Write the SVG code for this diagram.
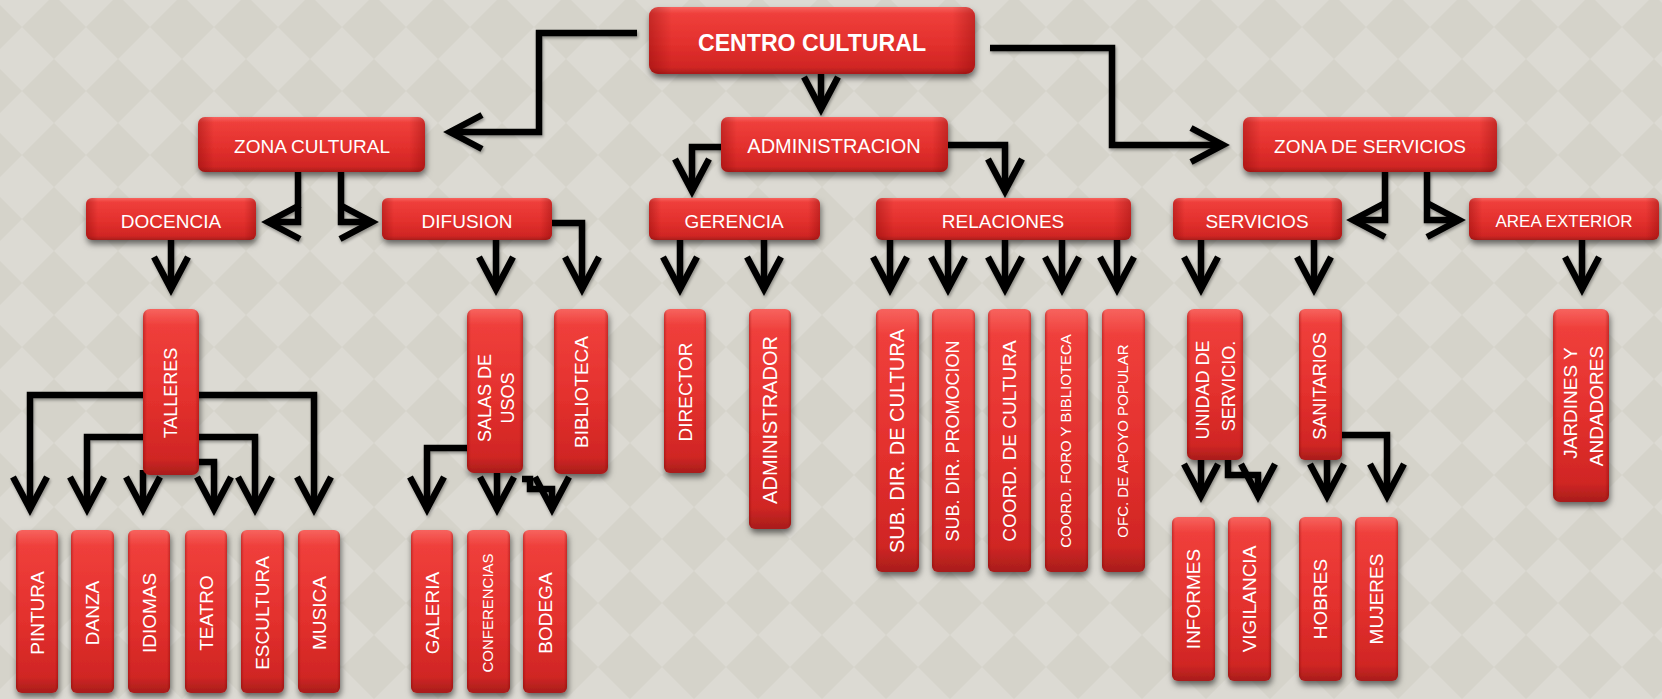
<svg xmlns="http://www.w3.org/2000/svg" width="1662" height="699" viewBox="0 0 1662 699">
<defs>
<pattern id="bg" width="64" height="64" patternUnits="userSpaceOnUse" patternTransform="translate(54,27)">
<rect width="64" height="64" fill="#d5d3ca"/>
<polygon points="32,0 64,32 32,64 0,32" fill="#dcdad3"/>
</pattern>
<linearGradient id="gr" x1="0" y1="0" x2="0" y2="1">
<stop offset="0" stop-color="#f7635e"/>
<stop offset="0.1" stop-color="#ef3f3b"/>
<stop offset="0.55" stop-color="#e3302d"/>
<stop offset="0.9" stop-color="#d02624"/>
<stop offset="1" stop-color="#a81d1b"/>
</linearGradient>
<linearGradient id="gs" x1="0" y1="0" x2="1" y2="0">
<stop offset="0" stop-color="#7a0000" stop-opacity="0.35"/>
<stop offset="0.07" stop-color="#7a0000" stop-opacity="0"/>
<stop offset="0.93" stop-color="#7a0000" stop-opacity="0"/>
<stop offset="1" stop-color="#7a0000" stop-opacity="0.35"/>
</linearGradient>
<filter id="sh" x="-20%" y="-20%" width="140%" height="150%">
<feDropShadow dx="1" dy="4" stdDeviation="3" flood-color="#000" flood-opacity="0.55"/>
</filter>
<filter id="lsh" x="-10%" y="-10%" width="120%" height="120%">
<feDropShadow dx="1" dy="2" stdDeviation="1.5" flood-color="#000" flood-opacity="0.35"/>
</filter>
<marker id="ah" markerUnits="userSpaceOnUse" viewBox="-44 -24 52 48" refX="0" refY="0" markerWidth="52" markerHeight="48" orient="auto">
<path d="M-32,-17 L0,0 L-32,17" fill="none" stroke="#000" stroke-width="6.5" stroke-linejoin="miter" stroke-miterlimit="10"/>
</marker>
<style>
.b{fill:url(#gr);filter:url(#sh)}
.s{fill:url(#gs)}
.t{font-family:"Liberation Sans",Arial,sans-serif;fill:#fff;font-size:19px;text-anchor:middle}
.c{fill:none;stroke:#000;stroke-width:6.5;stroke-linejoin:miter;marker-end:url(#ah)}
</style>
</defs>
<rect width="1662" height="699" fill="url(#bg)"/>

<g id="connectors" filter="url(#lsh)">
<path class="c" d="M637,33 H539 V132 H450"/>
<path class="c" d="M821,74 V109"/>
<path class="c" d="M990,48 H1112 V145 H1223"/>
<path class="c" d="M298,172 V222 H268"/>
<path class="c" d="M341,172 V222 H372"/>
<path class="c" d="M724,147 H692 V191"/>
<path class="c" d="M948,145 H1005 V191"/>
<path class="c" d="M1385,172 V220 H1353"/>
<path class="c" d="M1427,172 V220 H1459"/>
<path class="c" d="M171,240 V289"/>
<path class="c" d="M496,240 V289"/>
<path class="c" d="M552,223 H582 V289"/>
<path class="c" d="M680,240 V289"/>
<path class="c" d="M764,240 V289"/>
<path class="c" d="M890,240 V289"/>
<path class="c" d="M948,240 V289"/>
<path class="c" d="M1005,240 V289"/>
<path class="c" d="M1062,240 V289"/>
<path class="c" d="M1117,240 V289"/>
<path class="c" d="M1201,240 V289"/>
<path class="c" d="M1314,240 V289"/>
<path class="c" d="M1582,240 V289"/>
<path class="c" d="M145,395 H30 V509"/>
<path class="c" d="M196,395 H314 V509"/>
<path class="c" d="M145,437 H87 V509"/>
<path class="c" d="M196,437 H255 V509"/>
<path class="c" d="M143,470 V509"/>
<path class="c" d="M196,462 H214 V509"/>
<path class="c" d="M469,448 H427 V509"/>
<path class="c" d="M497,472 V509"/>
<path class="c" d="M522,479 H530 V489 H552 V509"/>
<path class="c" d="M1201,459 V496"/>
<path class="c" d="M1228,459 V475 H1258 V496"/>
<path class="c" d="M1327,459 V496"/>
<path class="c" d="M1340,435 H1387 V496"/>
</g>

<g id="centro-cultural"><rect class="b" x="649" y="7" width="326" height="67" rx="9"/><rect class="s" x="649" y="7" width="326" height="67" rx="9"/><text class="t" x="812" y="51" style="font-size:24px;font-weight:bold" textLength="228" lengthAdjust="spacingAndGlyphs">CENTRO CULTURAL</text></g>

<g id="zona-cultural"><rect class="b" x="198" y="117" width="227" height="55" rx="7"/><rect class="s" x="198" y="117" width="227" height="55" rx="7"/><text class="t" x="312" y="153">ZONA CULTURAL</text></g>
<g id="administracion"><rect class="b" x="721" y="117" width="227" height="55" rx="7"/><rect class="s" x="721" y="117" width="227" height="55" rx="7"/><text class="t" x="834" y="153" style="font-size:20px">ADMINISTRACION</text></g>
<g id="zona-servicios"><rect class="b" x="1243" y="117" width="254" height="55" rx="7"/><rect class="s" x="1243" y="117" width="254" height="55" rx="7"/><text class="t" x="1370" y="153">ZONA DE SERVICIOS</text></g>

<g id="docencia"><rect class="b" x="86" y="198" width="170" height="42" rx="6"/><rect class="s" x="86" y="198" width="170" height="42" rx="6"/><text class="t" x="171" y="228">DOCENCIA</text></g>
<g id="difusion"><rect class="b" x="382" y="198" width="170" height="42" rx="6"/><rect class="s" x="382" y="198" width="170" height="42" rx="6"/><text class="t" x="467" y="228">DIFUSION</text></g>
<g id="gerencia"><rect class="b" x="649" y="198" width="171" height="42" rx="6"/><rect class="s" x="649" y="198" width="171" height="42" rx="6"/><text class="t" x="734" y="228">GERENCIA</text></g>
<g id="relaciones"><rect class="b" x="876" y="198" width="255" height="42" rx="6"/><rect class="s" x="876" y="198" width="255" height="42" rx="6"/><text class="t" x="1003" y="228">RELACIONES</text></g>
<g id="servicios"><rect class="b" x="1173" y="198" width="169" height="42" rx="6"/><rect class="s" x="1173" y="198" width="169" height="42" rx="6"/><text class="t" x="1257" y="228">SERVICIOS</text></g>
<g id="area-exterior"><rect class="b" x="1469" y="198" width="190" height="42" rx="6"/><rect class="s" x="1469" y="198" width="190" height="42" rx="6"/><text class="t" x="1564" y="227" style="font-size:17px">AREA EXTERIOR</text></g>

<g id="talleres"><rect class="b" x="143" y="309" width="56" height="166" rx="7"/><rect class="s" x="143" y="309" width="56" height="166" rx="7"/><text class="t" transform="translate(171,393) rotate(-90)" y="6.3" style="font-size:18px">TALLERES</text></g>
<g id="salas-de-usos"><rect class="b" x="467" y="309" width="56" height="164" rx="7"/><rect class="s" x="467" y="309" width="56" height="164" rx="7"/><text class="t" transform="translate(485,398) rotate(-90)" y="6.3" style="font-size:18px">SALAS DE</text><text class="t" transform="translate(508,398) rotate(-90)" y="6.3" style="font-size:18px">USOS</text></g>
<g id="biblioteca"><rect class="b" x="554" y="309" width="54" height="165" rx="7"/><rect class="s" x="554" y="309" width="54" height="165" rx="7"/><text class="t" transform="translate(581,392) rotate(-90)" y="6.6">BIBLIOTECA</text></g>
<g id="director"><rect class="b" x="664" y="309" width="42" height="164" rx="6"/><rect class="s" x="664" y="309" width="42" height="164" rx="6"/><text class="t" transform="translate(685,392) rotate(-90)" y="6.6">DIRECTOR</text></g>
<g id="administrador"><rect class="b" x="749" y="309" width="42" height="220" rx="6"/><rect class="s" x="749" y="309" width="42" height="220" rx="6"/><text class="t" transform="translate(770,420) rotate(-90)" y="7" style="font-size:20px">ADMINISTRADOR</text></g>
<g id="sub-dir-cultura"><rect class="b" x="876" y="309" width="43" height="263" rx="6"/><rect class="s" x="876" y="309" width="43" height="263" rx="6"/><text class="t" transform="translate(897,441) rotate(-90)" y="7" style="font-size:20px">SUB. DIR. DE CULTURA</text></g>
<g id="sub-dir-promocion"><rect class="b" x="932" y="309" width="43" height="263" rx="6"/><rect class="s" x="932" y="309" width="43" height="263" rx="6"/><text class="t" transform="translate(953,441) rotate(-90)" y="6.3" style="font-size:18px">SUB. DIR. PROMOCION</text></g>
<g id="coord-cultura"><rect class="b" x="988" y="309" width="43" height="263" rx="6"/><rect class="s" x="988" y="309" width="43" height="263" rx="6"/><text class="t" transform="translate(1009,441) rotate(-90)" y="6.6">COORD. DE CULTURA</text></g>
<g id="coord-foro"><rect class="b" x="1045" y="309" width="43" height="263" rx="6"/><rect class="s" x="1045" y="309" width="43" height="263" rx="6"/><text class="t" transform="translate(1066,441) rotate(-90)" y="5.3" style="font-size:15px">COORD. FORO Y BIBLIOTECA</text></g>
<g id="ofc-apoyo"><rect class="b" x="1102" y="309" width="43" height="263" rx="6"/><rect class="s" x="1102" y="309" width="43" height="263" rx="6"/><text class="t" transform="translate(1123,441) rotate(-90)" y="5.3" style="font-size:15px">OFC. DE APOYO POPULAR</text></g>
<g id="unidad-servicio"><rect class="b" x="1187" y="309" width="56" height="151" rx="7"/><rect class="s" x="1187" y="309" width="56" height="151" rx="7"/><text class="t" transform="translate(1203,390) rotate(-90)" y="6.3" style="font-size:18px">UNIDAD DE</text><text class="t" transform="translate(1229,386) rotate(-90)" y="6.3" style="font-size:18px">SERVICIO.</text></g>
<g id="sanitarios"><rect class="b" x="1299" y="309" width="43" height="151" rx="6"/><rect class="s" x="1299" y="309" width="43" height="151" rx="6"/><text class="t" transform="translate(1320,386) rotate(-90)" y="6.3" style="font-size:18px">SANITARIOS</text></g>
<g id="jardines"><rect class="b" x="1553" y="309" width="56" height="193" rx="7"/><rect class="s" x="1553" y="309" width="56" height="193" rx="7"/><text class="t" transform="translate(1570,403) rotate(-90)" y="6.6">JARDINES Y</text><text class="t" transform="translate(1596,406) rotate(-90)" y="6.6">ANDADORES</text></g>

<g id="pintura"><rect class="b" x="16" y="530" width="42" height="163" rx="6"/><rect class="s" x="16" y="530" width="42" height="163" rx="6"/><text class="t" transform="translate(37,613) rotate(-90)" y="6.6">PINTURA</text></g>
<g id="danza"><rect class="b" x="71" y="530" width="43" height="163" rx="6"/><rect class="s" x="71" y="530" width="43" height="163" rx="6"/><text class="t" transform="translate(92,613) rotate(-90)" y="6.6">DANZA</text></g>
<g id="idiomas"><rect class="b" x="128" y="530" width="42" height="163" rx="6"/><rect class="s" x="128" y="530" width="42" height="163" rx="6"/><text class="t" transform="translate(149,613) rotate(-90)" y="6.6">IDIOMAS</text></g>
<g id="teatro"><rect class="b" x="185" y="530" width="42" height="163" rx="6"/><rect class="s" x="185" y="530" width="42" height="163" rx="6"/><text class="t" transform="translate(206,613) rotate(-90)" y="6.6">TEATRO</text></g>
<g id="escultura"><rect class="b" x="241" y="530" width="43" height="163" rx="6"/><rect class="s" x="241" y="530" width="43" height="163" rx="6"/><text class="t" transform="translate(262,613) rotate(-90)" y="6.6">ESCULTURA</text></g>
<g id="musica"><rect class="b" x="298" y="530" width="42" height="163" rx="6"/><rect class="s" x="298" y="530" width="42" height="163" rx="6"/><text class="t" transform="translate(319,613) rotate(-90)" y="6.6">MUSICA</text></g>
<g id="galeria"><rect class="b" x="411" y="530" width="42" height="163" rx="6"/><rect class="s" x="411" y="530" width="42" height="163" rx="6"/><text class="t" transform="translate(432,613) rotate(-90)" y="6.6">GALERIA</text></g>
<g id="conferencias"><rect class="b" x="467" y="530" width="43" height="163" rx="6"/><rect class="s" x="467" y="530" width="43" height="163" rx="6"/><text class="t" transform="translate(488,613) rotate(-90)" y="5.3" style="font-size:15px">CONFERENCIAS</text></g>
<g id="bodega"><rect class="b" x="523" y="530" width="44" height="163" rx="6"/><rect class="s" x="523" y="530" width="44" height="163" rx="6"/><text class="t" transform="translate(545,613) rotate(-90)" y="6.6">BODEGA</text></g>
<g id="informes"><rect class="b" x="1172" y="517" width="43" height="164" rx="6"/><rect class="s" x="1172" y="517" width="43" height="164" rx="6"/><text class="t" transform="translate(1193,599) rotate(-90)" y="6.6">INFORMES</text></g>
<g id="vigilancia"><rect class="b" x="1228" y="517" width="43" height="164" rx="6"/><rect class="s" x="1228" y="517" width="43" height="164" rx="6"/><text class="t" transform="translate(1249,599) rotate(-90)" y="6.6">VIGILANCIA</text></g>
<g id="hobres"><rect class="b" x="1299" y="517" width="43" height="164" rx="6"/><rect class="s" x="1299" y="517" width="43" height="164" rx="6"/><text class="t" transform="translate(1320,599) rotate(-90)" y="6.6">HOBRES</text></g>
<g id="mujeres"><rect class="b" x="1355" y="517" width="43" height="164" rx="6"/><rect class="s" x="1355" y="517" width="43" height="164" rx="6"/><text class="t" transform="translate(1376,599) rotate(-90)" y="6.6">MUJERES</text></g>
</svg>
